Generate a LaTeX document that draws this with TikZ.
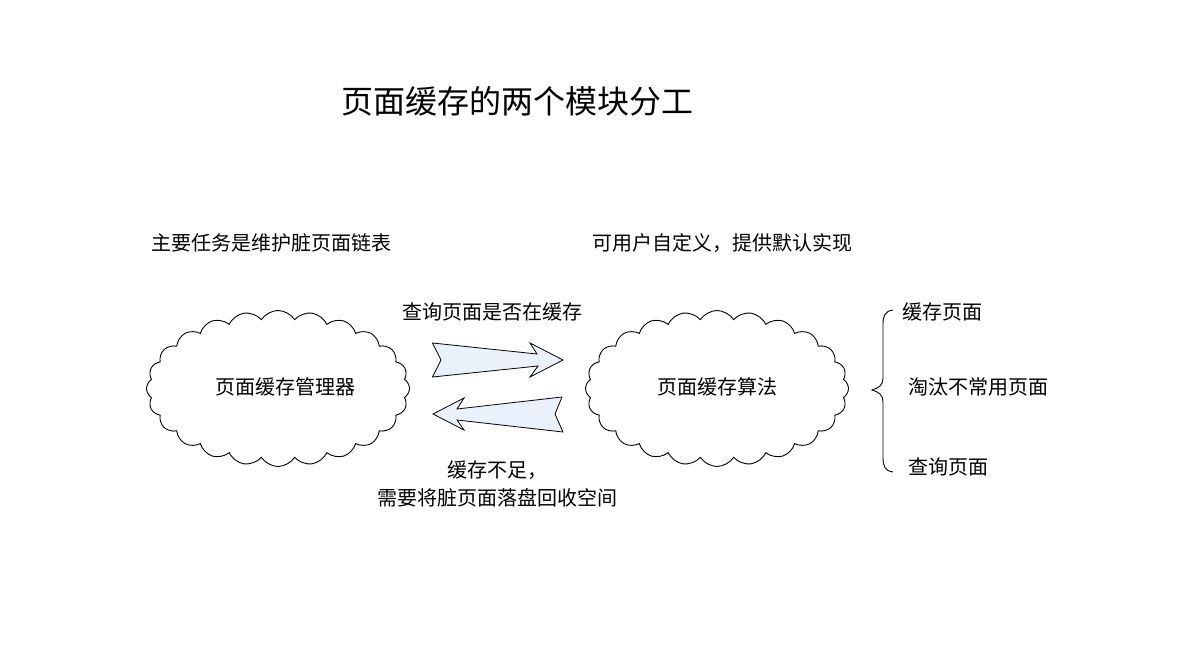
\documentclass[tikz,border=0pt]{standalone}
\usepackage{fontspec}
\setmainfont{Noto Sans CJK SC}
\usetikzlibrary{shapes.symbols}
\definecolor{arrowfill}{HTML}{EBF1FB}
\tikzset{
  lbl/.style={font=\fontsize{20pt}{28pt}\selectfont, inner sep=0pt, text=black},
  ttl/.style={font=\fontsize{32pt}{36pt}\selectfont, inner sep=0pt, text=black},
  cloudbox/.style={cloud, draw=black, line width=0.9pt, cloud puffs=24, cloud puff arc=115,
    cloud ignores aspect, minimum width=263pt, minimum height=156pt, inner sep=0pt},
  fatarrow/.style={draw=black, fill=arrowfill, line width=0.8pt, line join=miter},
  bracepath/.style={draw=black, line width=0.9pt}
}
\begin{document}
\begin{tikzpicture}[x=1pt,y=-1pt]
\useasboundingbox (0,0) rectangle (1200,655);
\node[ttl] (title) at (517,101) {页面缓存的两个模块分工};
\node[lbl] (taskL) at (271.5,243) {主要任务是维护脏页面链表};
\node[lbl] (taskR) at (722.5,243) {可用户自定义，提供默认实现};
\node[cloudbox] (mgr) at (278,388.5) {};
\node[lbl] (mgrtext) at (285,387) {页面缓存管理器};
\node[cloudbox] (alg) at (717,388.5) {};
\node[lbl] (algtext) at (717,387) {页面缓存算法};
\node[lbl] (query) at (492,312) {查询页面是否在缓存};
\node[lbl, align=center] (evict) at (497,484) {缓存不足，\\需要将脏页面落盘回收空间};
% right arrow
\path[fatarrow] (432.5,343) -- (441,360) -- (432.5,377) -- (538,366) -- (530,377)
  -- (563,360) -- (530,343) -- (537,354) -- cycle;
% left arrow
\path[fatarrow] (433,414) -- (464,398) -- (457,409) -- (562,397) -- (555,414)
  -- (563,432) -- (457,420) -- (464,430) -- cycle;
% brace
\draw[bracepath] (893,310) .. controls (885,311) and (883,316) .. (883,324)
  -- (883,378) .. controls (883,385) and (879,388) .. (872,390)
  .. controls (879,392) and (883,395) .. (883,402)
  -- (883,458) .. controls (883,466) and (885,471) .. (893,472);
\node[lbl, anchor=west] (f1) at (902,312) {缓存页面};
\node[lbl, anchor=west] (f2) at (908,387) {淘汰不常用页面};
\node[lbl, anchor=west] (f3) at (908,467) {查询页面};
\end{tikzpicture}
\end{document}
